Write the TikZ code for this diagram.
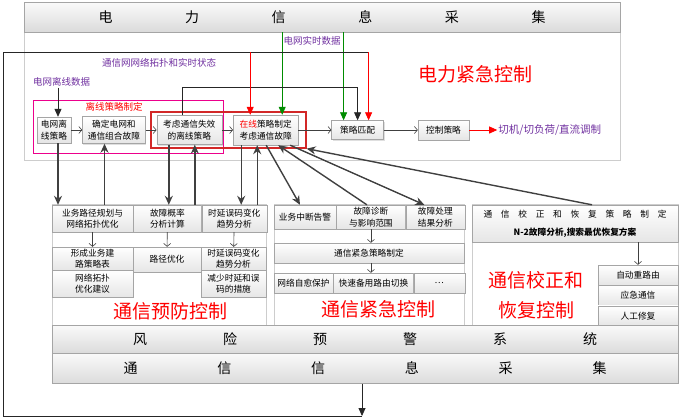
\documentclass[tikz,border=0pt]{standalone}
\usepackage{fontspec}
\setmainfont{Noto Sans CJK SC}
\usepackage{xcolor}
\usepackage{tikz}
\usetikzlibrary{positioning,arrows.meta,calc,fit,shadows}
\definecolor{pPurple}{RGB}{112,48,160}
\definecolor{pRed}{RGB}{255,0,0}
\definecolor{pGreen}{RGB}{0,140,0}
\definecolor{pDark}{RGB}{64,64,64}
\definecolor{cLine}{RGB}{165,165,165}
\definecolor{fLine}{RGB}{205,205,205}
\definecolor{rBox}{RGB}{210,40,40}
\tikzset{
  cell/.style={rectangle, draw=cLine, top color=white, bottom color=black!10,
               inner sep=1pt, align=center, font=\fontsize{8.7}{11.5}\selectfont,
               drop shadow={shadow xshift=1pt, shadow yshift=-1pt, opacity=.25}},
  bar/.style={cell, top color=black!2, bottom color=black!14,
              font=\fontsize{14}{16}\selectfont},
  frame/.style={rectangle, draw=fLine, fill=white, inner sep=0pt},
  note/.style={font=\fontsize{9.5}{11}\selectfont, text=pPurple, inner sep=1pt},
  big/.style={font=\fontsize{19}{30}\selectfont, text=pRed, align=center, inner sep=0pt},
  chain/.style={-{Straight Barb[length=3pt,width=7pt]}, draw=pDark, line width=0.6pt},
  darr/.style={-{Stealth[length=9pt,width=8pt]}, draw=pDark, line width=1.4pt},
  karr/.style={-{Triangle[length=8pt,width=7pt]}, draw=black!85, line width=0.8pt},
  garr/.style={karr, draw=pGreen, fill=pGreen},
  rarr/.style={karr, draw=pRed, fill=pRed},
  fline/.style={draw=black!85, line width=0.8pt},
}

\begin{document}
\begin{tikzpicture}[x=1pt, y=-1pt, node distance=11pt]
  \useasboundingbox (0,0) rectangle (679,418);

  % ---- power emergency control panel ----
  \node[frame, minimum width=596pt, minimum height=128pt] (ep) at (322,96) {};
  \node[bar, minimum width=596pt, minimum height=30pt] (pw) at (322,17)
        {\makebox[447pt][s]{电\hfill 力\hfill 信\hfill 息\hfill 采\hfill 集}};
  \node[big] (pec) at (475,74) {电力紧急控制};

  % ---- offline / online boxes ----
  \node[rectangle, draw=magenta, line width=0.8pt, minimum width=190pt,
        minimum height=53pt] (offbox) at (128,126.5) {};
  \node[rectangle, draw=rBox, line width=1.3pt, minimum width=155pt,
        minimum height=36pt] (onbox) at (228.5,130) {};
  \node[note, text=pRed] (oflbl) at (114,107) {离线策略制定};

  % ---- strategy row ----
  \node[cell, minimum width=34pt, minimum height=26pt] (olp) at (54,130) {电网离\\线策略};
  \node[cell, minimum width=63pt, minimum height=27pt, right=of olp] (cmb) {确定电网和\\通信组合故障};
  \node[cell, minimum width=65pt, minimum height=29pt, right=of cmb] (ofs) {考虑通信失效\\的离线策略};
  \node[cell, minimum width=65pt, minimum height=30pt, right=of ofs] (onl)
        {{\color{pRed}在线}策略制定\\考虑通信故障};
  \node[cell, minimum width=52pt, minimum height=19pt, right=33pt of onl] (mat) {策略匹配};
  \node[cell, minimum width=51pt, minimum height=20pt, right=34pt of mat] (ctl) {控制策略};
  \node[note, font=\fontsize{10.5}{12}\selectfont, right=28pt of ctl] (cut) {切机/切负荷/直流调制};

  % ---- data labels ----
  \node[note] (offd) at (61.5,82) {电网离线数据};
  \node[note] (topo) at (159,63) {通信网网络拓扑和实时状态};
  \node[note] (rtd) at (312,41) {电网实时数据};

  % ---- prevention panel ----
  \node[frame, minimum width=214pt, minimum height=121pt] (pvf) at (159,264.5) {};
  \node[cell, minimum width=81pt, minimum height=27pt] (pp) at (92.5,218.5) {业务路径规划与\\网络拓扑优化};
  \node[cell, minimum width=68pt, minimum height=27pt, right=0pt of pp] (fp) {故障概率\\分析计算};
  \node[cell, minimum width=65pt, minimum height=27pt, right=0pt of fp] (dl) {时延误码变化\\趋势分析};
  \node[cell, minimum width=81pt, minimum height=23pt] (fs) at (92.5,258.5) {形成业务建\\路策略表};
  \node[cell, minimum width=68pt, minimum height=25pt] (po) at (167,259.5) {路径优化};
  \node[cell, minimum width=65pt, minimum height=23pt] (dl2) at (233.5,258.5) {时延误码变化\\趋势分析};
  \node[cell, minimum width=81pt, minimum height=27pt, below=0pt of fs] (ts) {网络拓扑\\优化建议};
  \node[cell, minimum width=65pt, minimum height=27pt, below=0pt of dl2] (rd) {减少时延和误\\码的措施};
  \node[big] (pvc) at (170,311) {通信预防控制};

  % ---- emergency panel ----
  \node[frame, minimum width=190pt, minimum height=121pt] (emf) at (369,264.5) {};
  \node[cell, minimum width=62pt, minimum height=24pt] (int) at (305,217) {业务中断告警};
  \node[cell, minimum width=69pt, minimum height=24pt, right=0pt of int] (dg) {故障诊断\\与影响范围};
  \node[cell, minimum width=59pt, minimum height=24pt, right=0pt of dg] (fr) {故障处理\\结果分析};
  \node[cell, minimum width=190pt, minimum height=20pt] (es) at (369,253) {通信紧急策略制定};
  \node[cell, minimum width=59pt, minimum height=20pt] (sh) at (303.5,283) {网络自愈保护};
  \node[cell, minimum width=80pt, minimum height=20pt, right=0pt of sh] (fb) {快速备用路由切换};
  \node[cell, minimum width=51pt, minimum height=20pt, right=0pt of fb] (et) {…};
  \node[big] (ecc) at (378,309) {通信紧急控制};

  % ---- recovery panel ----
  \node[frame, minimum width=206pt, minimum height=121pt] (rcf) at (575,264.5) {};
  \node[cell, minimum width=206pt, minimum height=37pt, font=\fontsize{8.7}{18}\selectfont] (rc) at (575,223.5)
        {\makebox[183pt][s]{通\hfill 信\hfill 校\hfill 正\hfill 和\hfill 恢\hfill 复\hfill 策\hfill 略\hfill 制\hfill 定}\\
         \textbf{N-2故障分析,搜索最优恢复方案}};
  \node[cell, minimum width=80pt, minimum height=20pt] (ar) at (638,275) {自动重路由};
  \node[cell, minimum width=80pt, minimum height=20pt, below=0pt of ar] (em) {应急通信};
  \node[cell, minimum width=80pt, minimum height=20pt, below=0pt of em] (mr) {人工修复};
  \node[big] (rcc) at (536,295) {通信校正和\\恢复控制};

  % ---- warning / comm info bars ----
  \node[bar, minimum width=626pt, minimum height=28pt] (rw) at (365,339)
        {\makebox[464pt][s]{风\hfill 险\hfill 预\hfill 警\hfill 系\hfill 统}};
  \node[bar, minimum width=626pt, minimum height=30pt, below=0pt of rw] (tx)
        {\makebox[483pt][s]{通\hfill 信\hfill 信\hfill 息\hfill 采\hfill 集}};

  % ===== strategy chain =====
  \draw[chain] (olp) -- (cmb);
  \draw[chain] (cmb) -- (ofs);
  \draw[chain] (ofs) -- (onl);
  \draw[chain] (onl) -- (mat);
  \draw[chain] (mat) -- (ctl);
  \draw[rarr] (ctl) -- (cut);

  % ===== data feeds =====
  \draw[karr] ([xshift=4pt]olp.north |- offd.south) -- ([xshift=4pt]olp.north);
  \draw[garr] ([xshift=16.5pt]onl.north |- pw.south) -- ([xshift=16.5pt]onl.north);
  \draw[garr] ([xshift=-14pt]mat.north |- pw.south) -- ([xshift=-14pt]mat.north);
  \draw[karr] ([xshift=-6.5pt]ofs.north) -- ++(0,-28) -| (mat.north);

  % ===== feedback from comm info =====
  \coordinate (fbl) at (3,416);
  \coordinate (fbt) at (3,52);
  \draw[karr] ([xshift=-3pt]tx.south) -- ([xshift=-3pt]tx.south |- fbl);
  \draw[fline] ([xshift=-3pt]tx.south |- fbl) -- (fbl) -- (fbt) -- ([xshift=11pt]mat.north |- fbt);
  \draw[rarr] ([xshift=-15.5pt]onl.north |- fbt) -- ([xshift=-15.5pt]onl.north);
  \draw[rarr] ([xshift=11pt]mat.north |- fbt) -- ([xshift=11pt]mat.north);

  % ===== links to lower panels =====
  \draw[darr] ([xshift=4pt]olp.south) -- ([xshift=4pt]olp.south |- pp.north);
  \draw[darr] ([xshift=12pt]pp.north) -- ([xshift=12pt]pp.north |- cmb.south);
  \draw[darr] ([xshift=-20.5pt]ofs.south) -- ([xshift=-20.5pt]ofs.south |- fp.north);
  \draw[darr] ([xshift=5.5pt]ofs.south |- fp.north) -- ([xshift=5.5pt]ofs.south);
  \draw[darr] ([xshift=-24.5pt]onl.south) -- ([xshift=-24.5pt]onl.south |- dl.north);
  \draw[darr] ([xshift=-8.5pt]onl.south |- dl.north) -- ([xshift=-8.5pt]onl.south);
  \draw[darr] ([xshift=0.5pt]onl.south) -- ([xshift=-5pt]int.north);
  \draw[darr] ([xshift=-4pt]dg.north) -- ([xshift=12.5pt]onl.south);
  \draw[darr] ([xshift=24.5pt]onl.south) -- ([xshift=-11pt]fr.north);
  \draw[darr] ([xshift=17pt]rc.north) -- (onbox.south east);

  % ===== inner panel steps =====
  \draw[chain] (pp) -- (fs);
  \draw[chain] (fp) -- (po);
  \draw[chain] (dl) -- (dl2);
  \draw[chain] (dg.south) -- (dg.south |- es.north);
  \draw[chain] (es.south -| dg) -- (dg |- fb.north);
  \draw[chain] (rc.south -| ar) -- (ar);

\end{tikzpicture}
\end{document}
